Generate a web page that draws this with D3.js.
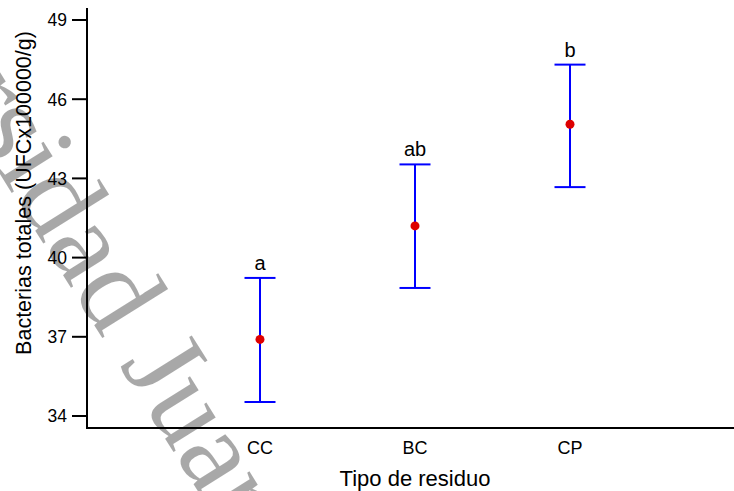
<!DOCTYPE html>
<html>
<head>
<meta charset="utf-8">
<script src="https://cdn.jsdelivr.net/npm/d3@7"></script>
<style>
  html, body { margin: 0; padding: 0; background: #fff; }
  svg { display: block; }
  text { font-family: Arial, "Liberation Sans", sans-serif; }
</style>
</head>
<body>
<svg id="chart" width="734" height="491"></svg>
<script>
const categories = ["CC", "BC", "CP"];
const means = [36.9, 41.2, 45.05];
const upper = [39.23, 43.53, 47.31];
const lower = [34.53, 38.85, 42.67];
const letters = ["a", "ab", "b"];
const yTicks = [34, 37, 40, 43, 46, 49];
const xTitle = "Tipo de residuo";
const yTitle = "Bacterias totales (UFCx100000/g)";
const watermarkLeft = "Universidad";
const watermarkRight = "Juarez Autonoma de Tabasco";

const svg = d3.select("#chart");
const axisX = 87, axisBottom = 428, axisTop = 8, axisRight = 734;

const y = d3.scaleLinear().domain([34, 49]).range([416, 20]);
const x = d3.scalePoint().domain(categories).range([260, 570]);

function drawWatermark() {
  const wm = svg.append("g").attr("transform", "translate(111,352) rotate(58)")
    .attr("fill", "#000").attr("fill-opacity", 0.34)
    .attr("font-size", 118);
  wm.append("text").attr("x", -15).attr("text-anchor", "end")
    .style("font-family", "'Liberation Serif', 'DejaVu Serif', serif").text(watermarkLeft);
  wm.append("text").attr("x", 15).attr("text-anchor", "start")
    .style("font-family", "'Liberation Serif', 'DejaVu Serif', serif").text(watermarkRight);
}

// Y axis
const yAxis = svg.append("g").attr("transform", `translate(${axisX},0)`);
yAxis.append("line").attr("x1", 0).attr("x2", 0).attr("y1", axisTop).attr("y2", axisBottom + 1)
  .attr("stroke", "#000").attr("stroke-width", 2);
const yt = yAxis.selectAll(".tick").data(yTicks).enter().append("g")
  .attr("transform", d => `translate(0,${y(d)})`);
yt.append("line").attr("x1", -15).attr("x2", 0).attr("stroke", "#000").attr("stroke-width", 2);
yt.append("text").attr("x", -20).attr("dy", "0.36em").attr("text-anchor", "end")
  .attr("font-size", 17.5).attr("fill", "#000").text(d => d);

// X axis
svg.append("line").attr("x1", axisX - 1).attr("x2", axisRight).attr("y1", axisBottom).attr("y2", axisBottom)
  .attr("stroke", "#000").attr("stroke-width", 2);
svg.selectAll(".xlab").data(categories).enter().append("text")
  .attr("x", d => x(d)).attr("y", 454).attr("text-anchor", "middle")
  .attr("font-size", 18).attr("fill", "#000").text(d => d);

// Titles
svg.append("text").attr("x", 415).attr("y", 486).attr("text-anchor", "middle")
  .attr("font-size", 22).attr("fill", "#000").text(xTitle);
svg.append("text").attr("transform", "translate(31,193) rotate(-90)").attr("text-anchor", "middle")
  .attr("font-size", 21.5).attr("fill", "#000").text(yTitle);

// Error bars
const g = svg.append("g");
categories.forEach((c, i) => {
  const cx = x(c);
  g.append("line").attr("x1", cx).attr("x2", cx).attr("y1", y(upper[i])).attr("y2", y(lower[i]))
    .attr("stroke", "#0000ff").attr("stroke-width", 2);
  [upper[i], lower[i]].forEach(v => {
    g.append("line").attr("x1", cx - 15.5).attr("x2", cx + 15.5).attr("y1", y(v)).attr("y2", y(v))
      .attr("stroke", "#0000ff").attr("stroke-width", 2);
  });
  g.append("circle").attr("cx", cx).attr("cy", y(means[i])).attr("r", 4.5).attr("fill", "#dd0000");
  g.append("text").attr("x", cx).attr("y", y(upper[i]) - 8).attr("text-anchor", "middle")
    .attr("font-size", 20).attr("fill", "#000").text(letters[i]);
});

drawWatermark();
</script>
</body>
</html>
